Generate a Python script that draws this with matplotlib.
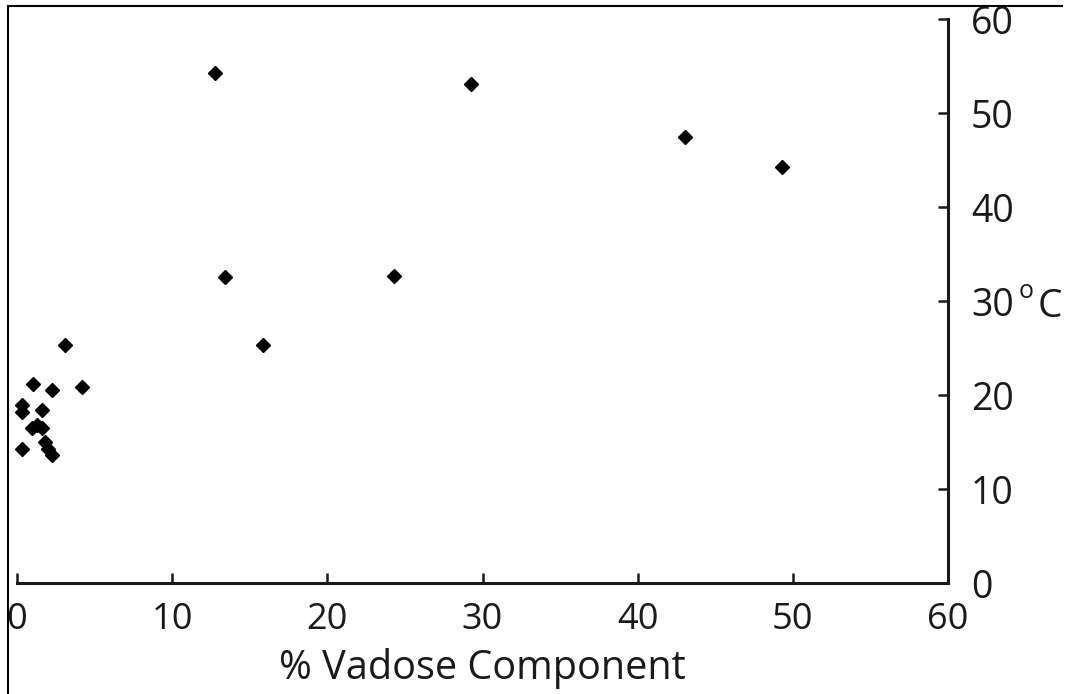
import matplotlib
matplotlib.use("Agg")
import matplotlib.pyplot as plt
from matplotlib.lines import Line2D
from matplotlib.transforms import blended_transform_factory

plt.rcParams['font.family'] = ['Open Sans', 'DejaVu Sans']

# Data
vadose_pct = [12.76, 29.26, 43.05, 49.30, 13.40, 24.30, 15.83, 3.09, 4.17, 1.05,
              2.27, 0.30, 0.30, 1.63, 0.95, 1.27, 1.59, 0.30, 1.80, 2.02, 2.24]
temp_c = [54.3, 53.1, 47.4, 44.3, 32.6, 32.7, 25.3, 25.3, 20.9, 21.2,
          20.5, 18.9, 18.2, 18.4, 16.5, 16.8, 16.5, 14.3, 15.0, 14.3, 13.6]
x_ticks = [0, 10, 20, 30, 40, 50, 60]
y_ticks = [0, 10, 20, 30, 40, 50, 60]
x_label = "% Vadose Component"
y_unit = "C"

W, H = 1071, 694
fig = plt.figure(figsize=(W / 100, H / 100), dpi=100)
fig.patch.set_facecolor('white')
ax = fig.add_axes([17 / W, 1 - 583 / H, (948 - 17) / W, (583 - 19) / H])

ax.plot(vadose_pct, temp_c, linestyle='none', marker='D', markersize=6.8,
        color='black', clip_on=False)

ax.set_xlim(0, 60)
ax.set_ylim(0, 60)
ax.set_xticks(x_ticks)
ax.set_yticks(y_ticks)

for s in ['top', 'left']:
    ax.spines[s].set_visible(False)
for s in ['bottom', 'right']:
    ax.spines[s].set_linewidth(2.2)
    ax.spines[s].set_color('#1a1a1a')

ax.yaxis.tick_right()
ax.tick_params(axis='x', direction='in', length=7, width=1.8, pad=14,
               labelsize=26, colors='#1a1a1a')
ax.tick_params(axis='y', direction='in', length=7, width=1.8, pad=16.5,
               labelsize=27, colors='#1a1a1a')
ax.tick_params(axis='y', which='both', left=False, right=True)
ax.set_xlabel(x_label, fontsize=28.5, labelpad=7, color='#1a1a1a')

# degree-C unit label next to the 30 tick
tr = blended_transform_factory(ax.transAxes, ax.transData)
ax.text(1.076, 30.3, "o", transform=tr, fontsize=18, va='baseline', ha='left',
        color='#1a1a1a')
ax.text(1.096, 28.3, y_unit, transform=tr, fontsize=28, va='baseline', ha='left',
        color='#1a1a1a')

# thin frame lines (left and top) around the figure
fig.add_artist(Line2D([8 / W, 8 / W], [0, 1 - 6 / H], transform=fig.transFigure,
                      color='black', linewidth=1.5))
fig.add_artist(Line2D([8 / W, 1062 / W], [1 - 6 / H, 1 - 6 / H],
                      transform=fig.transFigure, color='black', linewidth=1.5))

fig.savefig('out.png', dpi=100, facecolor='white')
